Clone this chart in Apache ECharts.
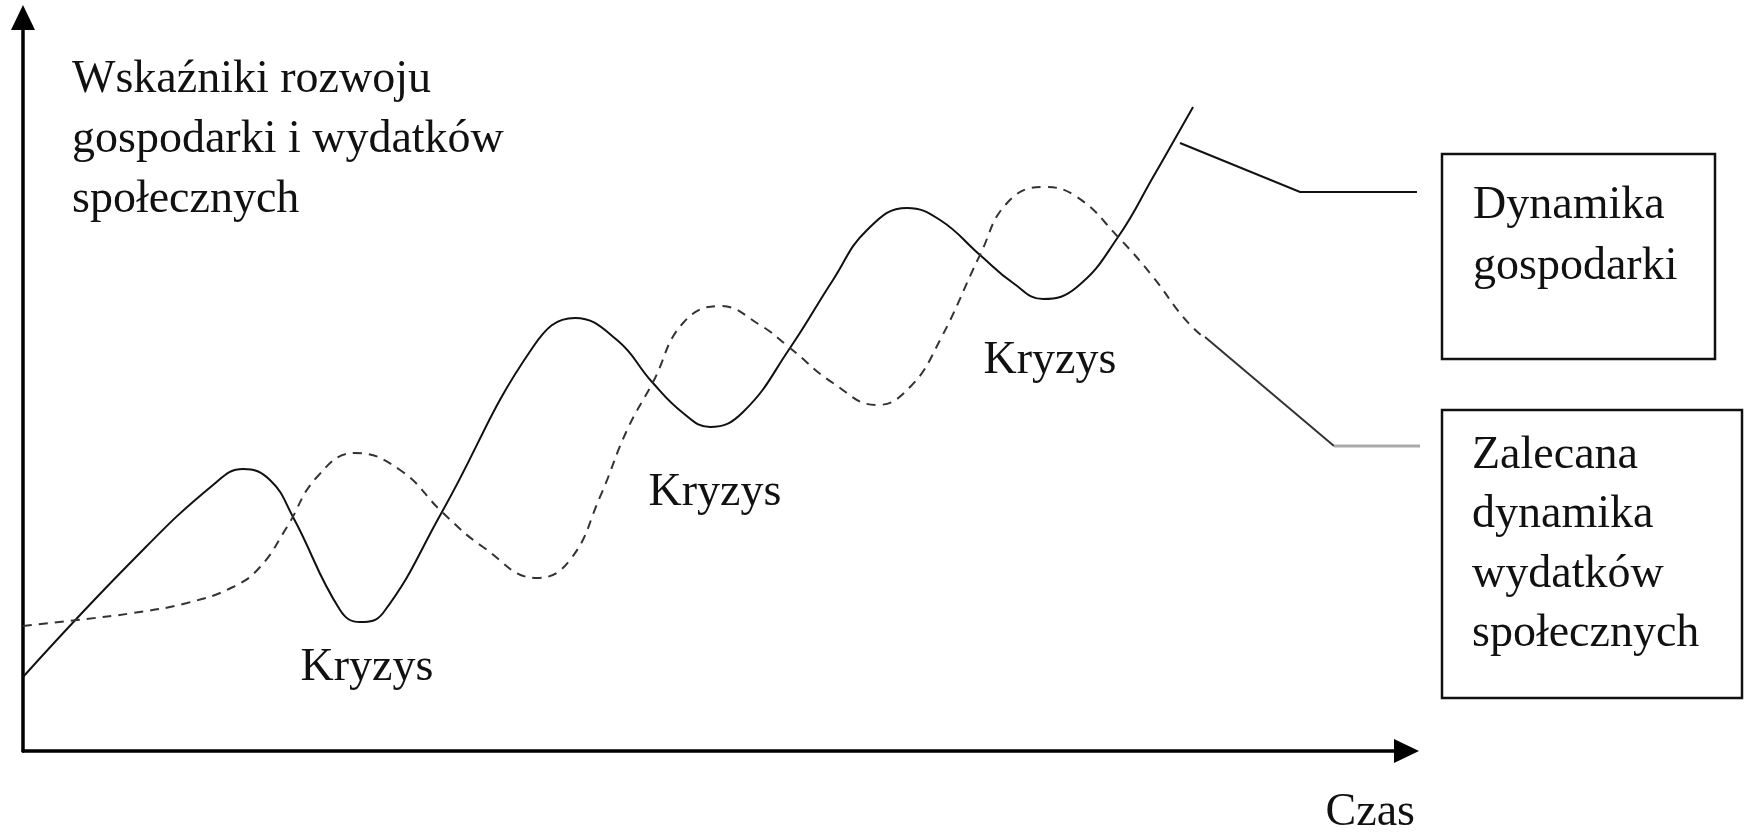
<!DOCTYPE html>
<html>
<head>
<meta charset="utf-8">
<title>Dynamika gospodarki</title>
<script src="https://cdn.jsdelivr.net/npm/echarts@6/dist/echarts.min.js"></script>
<style>
    html, body { margin: 0; padding: 0; background: #fff; }
    #main { width: 1750px; height: 837px; }
</style>
</head>
<body>
<div id="main"></div>
<script>
// skala umowna: czas 0-99, wskaznik 0-98
var gospodarkaX = [0, 7.88, 13.61, 15.76, 17.69, 19.34, 22.71, 24.14, 25.79, 30.01, 36.53, 39.54, 42.55, 45.06, 47.28, 49.21, 51.58, 54.94, 58.02, 60.46, 63.32, 65.69, 68.55, 70.92, 73.07, 75.50, 78.44, 80.95, 83.81];
var gospodarkaY = [9.92, 25.60, 35.66, 37.80, 36.33, 31.37, 18.90, 17.29, 18.50, 32.04, 54.16, 58.04, 55.09, 49.46, 45.31, 43.43, 45.44, 54.02, 63.14, 69.84, 72.79, 71.18, 66.49, 62.73, 60.59, 62.20, 68.90, 76.94, 86.33];

var wydatkiX = [0, 3.87, 7.88, 11.75, 15.04, 16.98, 18.91, 21.06, 23.78, 27.01, 30.09, 32.95, 36.82, 39.18, 41.33, 43.27, 45.13, 47.28, 49.93, 52.79, 54.94, 58.02, 61.17, 63.54, 65.69, 68.55, 70.49, 73.07, 75.50, 78.44, 80.95, 83.09, 84.53];
var wydatkiY = [16.76, 17.56, 18.50, 19.84, 21.98, 24.66, 30.03, 36.73, 39.95, 37.67, 31.90, 27.35, 23.19, 25.60, 34.05, 43.03, 49.46, 57.37, 59.65, 57.10, 54.02, 49.33, 46.38, 48.79, 55.09, 66.49, 73.46, 75.60, 74.26, 68.90, 63.54, 58.18, 55.50];

var tytulOsiY = ['Wskaźniki rozwoju', 'gospodarki i wydatków', 'społecznych'];
var nazwaOsiX = 'Czas';
var opisGospodarki = ['Dynamika', 'gospodarki'];
var opisWydatkow = ['Zalecana', 'dynamika', 'wydatków', 'społecznych'];
var opisKryzysu = 'Kryzys';

function pary(xs, ys) {
    return xs.map(function (x, i) { return [x, ys[i]]; });
}

var FONT = "'Liberation Serif', 'Times New Roman', serif";
var txt = function (x, y, text, align, lh) {
    return {
        type: 'text',
        x: x,
        y: y,
        style: {
            text: text,
            font: '46px ' + FONT,
            fill: '#111',
            align: align || 'left',
            verticalAlign: 'top',
            lineHeight: lh || 46
        }
    };
};

// strzalka jest centrowana na koncu osi
var osStyl = {
    onZero: false,
    symbol: ['none', 'triangle'],
    symbolSize: [24, 25],
    lineStyle: { color: '#000', width: 3.5 }
};

var chart = echarts.init(document.getElementById('main'));

var option = {
    backgroundColor: '#fff',
    animation: false,
    grid: { left: 23, top: 17.5, width: 1383.5, height: 733.5 },
    xAxis: {
        type: 'value', min: 0, max: 99.1,
        axisLine: osStyl,
        axisTick: { show: false }, axisLabel: { show: false }, splitLine: { show: false }
    },
    yAxis: {
        type: 'value', min: 0, max: 98.32,
        axisLine: osStyl,
        axisTick: { show: false }, axisLabel: { show: false }, splitLine: { show: false }
    },
    series: [
        {
            name: opisGospodarki.join(' '),
            type: 'line',
            data: pary(gospodarkaX, gospodarkaY),
            smooth: 0.45,
            showSymbol: false,
            lineStyle: { color: '#111', width: 2 }
        },
        {
            name: opisWydatkow.join(' '),
            type: 'line',
            data: pary(wydatkiX, wydatkiY),
            smooth: 0.45,
            showSymbol: false,
            lineStyle: { color: '#333', width: 2, type: [9, 7] }
        }
    ],
    graphic: [
        txt(72, 50, tytulOsiY.join('\n'), 'left', 60),
        txt(1415, 790, nazwaOsiX, 'right'),
        txt(367, 645, opisKryzysu, 'center'),
        txt(715, 470, opisKryzysu, 'center'),
        txt(1050, 338, opisKryzysu, 'center'),
        // linie odniesienia do ramek
        { type: 'polyline', shape: { points: [[1180, 143], [1300, 192], [1417, 192]] }, style: { stroke: '#111', lineWidth: 2, fill: null } },
        { type: 'polyline', shape: { points: [[1205, 337], [1334, 446]] }, style: { stroke: '#333', lineWidth: 2, fill: null } },
        { type: 'polyline', shape: { points: [[1334, 446], [1420, 446]] }, style: { stroke: '#aaa', lineWidth: 3, fill: null } },
        // ramki
        { type: 'rect', shape: { x: 1442, y: 154, width: 273, height: 205 }, style: { stroke: '#111', lineWidth: 2.5, fill: null } },
        { type: 'rect', shape: { x: 1442, y: 410, width: 300, height: 288 }, style: { stroke: '#111', lineWidth: 2.5, fill: null } },
        txt(1473, 175, opisGospodarki.join('\n'), 'left', 61),
        txt(1472, 426, opisWydatkow.join('\n'), 'left', 59.5)
    ]
};

chart.setOption(option);
window.addEventListener('resize', function () {
    chart.resize();
});
</script>
</body>
</html>
